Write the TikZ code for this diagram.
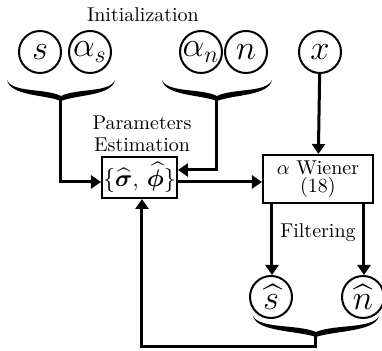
\documentclass[tikz,border=0pt]{standalone}
\usepackage{amsmath,amssymb,bm}
\usetikzlibrary{arrows.meta}
\newcommand\halfbrace[3]{%
  \fill[shift={(#1,#2)}, xscale=#3] (0,0) .. controls (0.1,13) and (0.7,8) .. (1,16)
    -- (1,21) .. controls (0.7,14.5) and (0.06,16) .. (0,0) -- cycle;}
\begin{document}
\begin{tikzpicture}[x=0.5pt,y=-0.5pt,
  circ/.style={draw, circle, line width=1pt, minimum size=21pt, inner sep=0pt, font=\LARGE},
  blockbox/.style={draw, line width=1pt, inner sep=0pt, align=center},
  conn/.style={line width=1.5pt},
  arr/.style={line width=1.5pt, -{Triangle[length=5pt,width=6.5pt]}},
  lbl/.style={inner sep=0pt, align=center}]
\useasboundingbox (0,0) rectangle (382,351);
% circles
\node[circ] (s) at (40,52) {$s$};
\node[circ] (as) at (90,52) {$\alpha_s$};
\node[circ] (an) at (201,52) {$\alpha_n$};
\node[circ] (n) at (246,52) {$n$};
\node[circ] (x) at (320,52) {$x$};
\node[circ] (sh) at (271,297) {$\widehat{s}$};
\node[circ] (nh) at (363,297) {$\widehat{n}$};
% labels
\node[lbl] (init) at (143,15) {Initialization};
\node[lbl] (pe) at (142,134) {Parameters\\[-1pt]Estimation};
\node[lbl] (filt) at (318,233) {Filtering};
% boxes
\node[blockbox, minimum width=37.5pt, minimum height=20.5pt] (pbox) at (139.5,177.5)
  {\large$\{\widehat{\bm{\sigma}},\,\widehat{\bm{\phi}}\}$};
\node[blockbox, minimum width=55pt, minimum height=24pt] (wbox) at (318,179)
  {$\alpha$ Wiener\\[-3pt](18)};
% braces
\halfbrace{7}{80}{54}
\halfbrace{115}{80}{-54}
\halfbrace{162}{80}{55}
\halfbrace{272}{80}{-55}
\halfbrace{253}{316}{63}
\halfbrace{379}{316}{-63}
\coordinate (b1) at (61,98);
\coordinate (b2) at (217,98);
\coordinate (b3) at (316,334);
\coordinate (b3c) at (316,347);
\coordinate (b3d) at (142,347);
% connectors
\draw[arr] (b1) |- ([yshift=-2.25pt]pbox.west);
\draw[arr] (b2) |- ([yshift=3.75pt]pbox.east);
\draw[arr] ([yshift=-2.25pt]pbox.east) -- ([yshift=-2.25pt]pbox.east -| wbox.west);
\draw[arr] (x) -- (wbox);
\draw[arr] (wbox.south -| sh.north) ++(1,0) coordinate (w1) -- (w1 |- sh.north);
\draw[arr] (wbox.south -| nh.north) ++(1,0) coordinate (w2) -- (w2 |- nh.north);
\draw[arr] (b3) -- (b3c) -- (b3d) -- (b3d |- pbox.south);
\end{tikzpicture}
\end{document}
